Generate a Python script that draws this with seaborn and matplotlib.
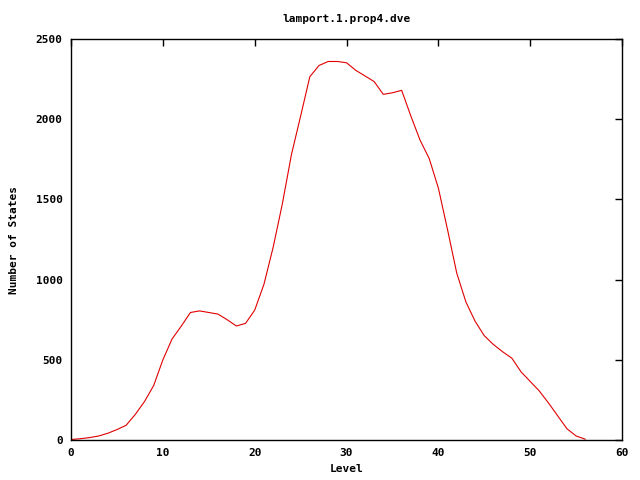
import pandas as pd
import matplotlib
matplotlib.use("Agg")
import matplotlib.pyplot as plt
import seaborn as sns

# Dados
levels = list(range(0, 57))
states = [3, 8, 15, 25, 42, 65, 92, 160, 240, 340,
          500, 630, 710, 795, 805, 795, 785, 750, 711, 727,
          810, 970, 1200, 1470, 1780, 2020, 2265, 2335, 2360, 2360,
          2352, 2305, 2270, 2235, 2155, 2165, 2180, 2020, 1870, 1755,
          1570, 1310, 1040, 860, 740, 650, 595, 550, 510, 425,
          365, 305, 230, 150, 70, 25, 5]
x_ticks = [0, 10, 20, 30, 40, 50, 60]
y_ticks = [0, 500, 1000, 1500, 2000, 2500]

df = pd.DataFrame({"Level": levels, "States": states})

sns.set_style("white")
plt.rcParams["font.family"] = ["DejaVu Sans Mono"]
plt.rcParams["font.weight"] = "bold"
plt.rcParams["font.size"] = 8
plt.rcParams["text.color"] = "black"
plt.rcParams["axes.labelcolor"] = "black"
plt.rcParams["xtick.color"] = "black"
plt.rcParams["ytick.color"] = "black"

fig = plt.figure(figsize=(6.4, 4.8), dpi=100)
ax = fig.add_axes([0.111, 0.0833, 0.861, 0.8354])

sns.lineplot(data=df, x="Level", y="States", ax=ax, color="#e00000", linewidth=0.8)

ax.set_xlim(0, 60)
ax.set_ylim(0, 2500)
ax.set_xticks(x_ticks)
ax.set_yticks(y_ticks)
ax.tick_params(direction="in", top=True, right=True, length=5, width=1,
               labelsize=8, pad=6)
for lab in ax.get_xticklabels() + ax.get_yticklabels():
    lab.set_fontweight("bold")
for s in ax.spines.values():
    s.set_linewidth(1)
    s.set_color("black")

ax.set_xlabel("Level", fontweight="bold", fontsize=8)
ax.set_ylabel("Number of States", fontweight="bold", fontsize=8, labelpad=12)
ax.set_title("lamport.1.prop4.dve", fontweight="bold", fontsize=8, pad=12)

fig.savefig("out.png", dpi=100)
